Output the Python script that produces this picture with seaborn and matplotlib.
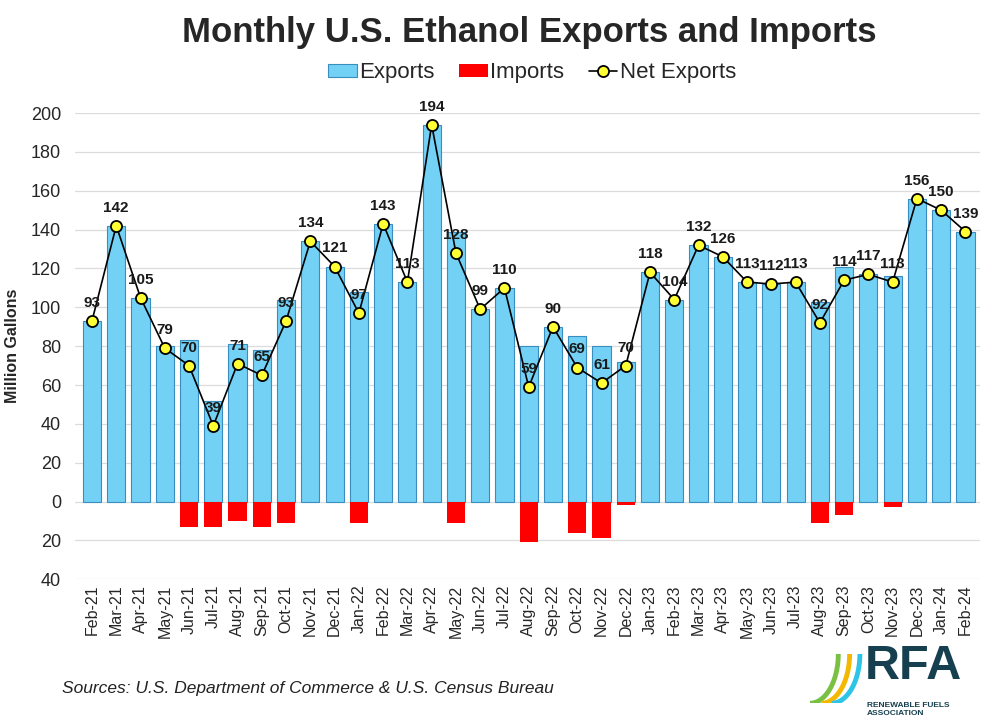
import numpy as np
import pandas as pd
import matplotlib.pyplot as plt
import seaborn as sns

# Datos mensuales (millones de galones)
months = ['Feb-21', 'Mar-21', 'Apr-21', 'May-21', 'Jun-21', 'Jul-21', 'Aug-21', 'Sep-21',
          'Oct-21', 'Nov-21', 'Dec-21', 'Jan-22', 'Feb-22', 'Mar-22', 'Apr-22', 'May-22',
          'Jun-22', 'Jul-22', 'Aug-22', 'Sep-22', 'Oct-22', 'Nov-22', 'Dec-22', 'Jan-23',
          'Feb-23', 'Mar-23', 'Apr-23', 'May-23', 'Jun-23', 'Jul-23', 'Aug-23', 'Sep-23',
          'Oct-23', 'Nov-23', 'Dec-23', 'Jan-24', 'Feb-24']
exports = [93, 142, 105, 80, 83, 52, 81, 78, 104, 134, 121, 108, 143, 113, 194, 139,
           99, 110, 80, 90, 85, 80, 72, 118, 104, 132, 126, 113, 112, 113, 103, 121,
           117, 116, 156, 150, 139]
imports = [0, 0, 0, 0, 13, 13, 10, 13, 11, 0, 0, 11, 0, 0, 0, 11,
           0, 0, 21, 0, 16, 19, 2, 0, 0, 0, 0, 0, 0, 0, 11, 7,
           0, 3, 0, 0, 0]
net_exports = [93, 142, 105, 79, 70, 39, 71, 65, 93, 134, 121, 97, 143, 113, 194, 128,
               99, 110, 59, 90, 69, 61, 70, 118, 104, 132, 126, 113, 112, 113, 92, 114,
               117, 113, 156, 150, 139]

df = pd.DataFrame({'Mes': months, 'Exports': exports,
                   'Imports': [-v for v in imports], 'Net': net_exports})

sns.set_style('white')
plt.rcParams['font.family'] = ['Liberation Sans', 'DejaVu Sans']

fig = plt.figure(figsize=(10, 7.25), dpi=100)
ax = fig.add_axes([0.075, 0.201, 0.905, 0.643])

sns.barplot(data=df, x='Mes', y='Exports', color='#73D1F5', edgecolor='#3A8DBF',
            linewidth=0.8, width=0.75, saturation=1, ax=ax, label='Exports', zorder=2)
sns.barplot(data=df, x='Mes', y='Imports', color='#FF0000', linewidth=0,
            width=0.75, saturation=1, ax=ax, label='Imports', zorder=2)
sns.lineplot(data=df, x='Mes', y='Net', color='black', linewidth=1.2, marker='o',
             markersize=8, markerfacecolor='#FFFF33', markeredgecolor='black',
             markeredgewidth=1.3, ax=ax, label='Net Exports', zorder=4, sort=False)

# Etiquetas de exportaciones netas
for i, v in enumerate(net_exports):
    ax.annotate(str(v), (i, v), xytext=(0, 13), textcoords='offset points',
                ha='center', va='center', fontsize=11, fontweight='bold',
                color='#1a1a1a', zorder=5, annotation_clip=False)

ax.set_ylim(-40, 200)
ax.set_xlim(-0.7, len(months) - 0.4)
yt = np.arange(-40, 201, 20)
ax.set_yticks(yt)
ax.set_yticklabels([str(abs(t)) for t in yt], fontsize=13)
ax.tick_params(axis='x', labelrotation=90, labelsize=11.5, length=0, pad=4)
ax.tick_params(axis='y', length=0, pad=10)
ax.yaxis.grid(True, color='#DCDCDC', linewidth=0.9, zorder=0)
ax.set_axisbelow(True)
for s in ax.spines.values():
    s.set_visible(False)
ax.set_xlabel('')
ax.set_ylabel('Million Gallons', fontsize=11.5, fontweight='bold', labelpad=8)

# Leyenda en el orden del original
handles, labels = ax.get_legend_handles_labels()
lookup = dict(zip(labels, handles))
order = ['Exports', 'Imports', 'Net Exports']
ax.legend([lookup[k] for k in order], order, loc='upper center',
          bbox_to_anchor=(0.505, 1.152), ncol=3, frameon=False, fontsize=16,
          handlelength=1.3, handleheight=0.55, handletextpad=0.1, columnspacing=1.1)

fig.text(0.529, 0.955, 'Monthly U.S. Ethanol Exports and Imports', ha='center',
         va='center', fontsize=25, fontweight='bold')
fig.text(0.062, 0.051, 'Sources: U.S. Department of Commerce & U.S. Census Bureau',
         ha='left', va='center', fontsize=12.5, style='italic', color='#222222')

# Logo RFA aproximado
lax = fig.add_axes([0.81, 0.030, 0.054, 0.068])
tt = np.linspace(0, 1, 40)
for a, c in [(0.0, '#7AC143'), (0.22, '#F5B800'), (0.42, '#2EC4E8')]:
    lax.plot(a + 0.55 * np.sin(tt * np.pi / 2), 1 - np.cos(tt * np.pi / 2),
             color=c, linewidth=3.5, solid_capstyle='butt')
lax.set_xlim(0, 1.05)
lax.set_ylim(0, 1)
lax.axis('off')
fig.text(0.865, 0.081, 'RFA', ha='left', va='center', fontsize=35, fontweight='bold',
         color='#16404F')
fig.text(0.867, 0.022, 'RENEWABLE FUELS\nASSOCIATION', ha='left', va='center',
         fontsize=6, fontweight='bold', color='#16404F', linespacing=1.2)

fig.savefig('out.png', dpi=100, facecolor='white')
plt.close(fig)
